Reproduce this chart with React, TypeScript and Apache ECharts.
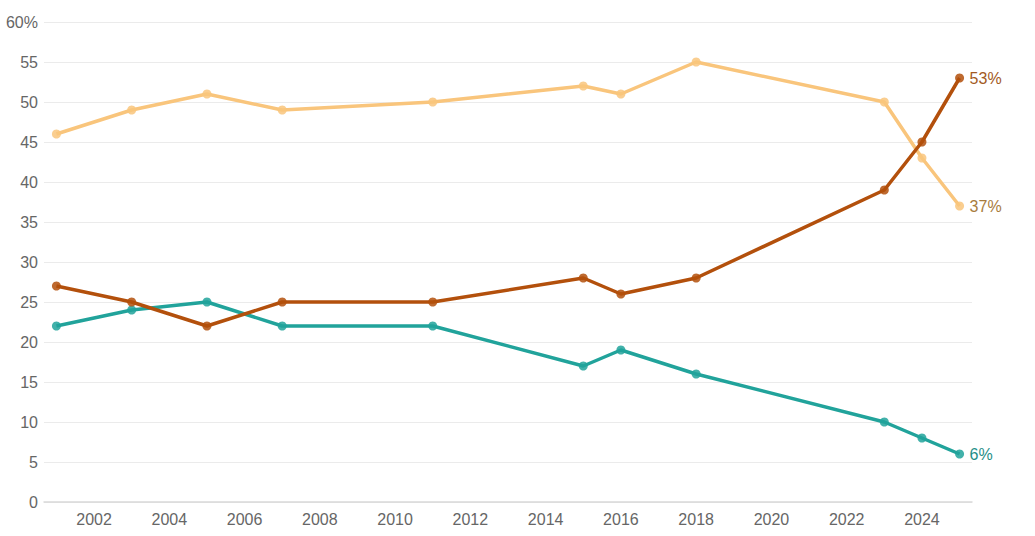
import React, { useEffect, useRef } from "react";
import * as echarts from "echarts";

const years = [2001, 2003, 2005, 2007, 2011, 2015, 2016, 2018, 2023, 2024, 2025];
const lightSeries = [46, 49, 51, 49, 50, 52, 51, 55, 50, 43, 37];
const darkSeries = [27, 25, 22, 25, 25, 28, 26, 28, 39, 45, 53];
const tealSeries = [22, 24, 25, 22, 22, 17, 19, 16, 10, 8, 6];
const xTicks = [2002, 2004, 2006, 2008, 2010, 2012, 2014, 2016, 2018, 2020, 2022, 2024];

const FONT = "'Liberation Sans', Arial, sans-serif";

function mk(name: string, values: number[], color: string, labelColor: string, z: number) {
  return {
    name,
    type: "line",
    z,
    data: years.map((y, i) => [y, values[i]]),
    symbol: "circle",
    symbolSize: 9,
    lineStyle: { color, width: 3.5 },
    itemStyle: { color, opacity: 0.85 },
    endLabel: {
      show: true,
      distance: 10,
      color: labelColor,
      fontSize: 16,
      fontFamily: FONT,
      formatter: (p: any) => p.value[1] + "%",
    },
  };
}

export default function App() {
  const ref = useRef<HTMLDivElement>(null);
  useEffect(() => {
    const chart = echarts.init(ref.current!, null, { renderer: "svg" });
    chart.setOption({
      animation: false,
      grid: { left: 44, right: 63, top: 22, bottom: 34, containLabel: false, outerBoundsMode: "none" },
      xAxis: {
        type: "value",
        min: 2000.67,
        max: 2025.33,
        splitLine: { show: false },
        axisLine: { show: true, lineStyle: { color: "#d9d9d9", width: 1.5 } },
        axisTick: { show: false, customValues: xTicks },
        axisLabel: {
          customValues: xTicks,
          color: "#666",
          fontSize: 16,
          fontFamily: FONT,
          margin: 9,
          formatter: (v: number) => String(v),
        },
      },
      yAxis: {
        type: "value",
        min: 0,
        max: 60,
        interval: 5,
        axisLine: { show: false },
        axisTick: { show: false },
        splitLine: { lineStyle: { color: "#ebebeb", width: 1 } },
        axisLabel: {
          color: "#666",
          fontSize: 16,
          fontFamily: FONT,
          margin: 6,
          formatter: (v: number) => (v === 60 ? "60%" : String(v)),
        },
      },
      series: [
        mk("light", lightSeries, "#f9c57c", "#a87c3c", 2),
        mk("teal", tealSeries, "#21a39b", "#1f8f88", 3),
        mk("dark", darkSeries, "#b3500c", "#a35a22", 4),
      ],
    });
    return () => chart.dispose();
  }, []);
  return (
    <div
      ref={ref}
      style={{ position: "absolute", left: 0, top: 0, width: 1035, height: 536 }}
    />
  );
}
